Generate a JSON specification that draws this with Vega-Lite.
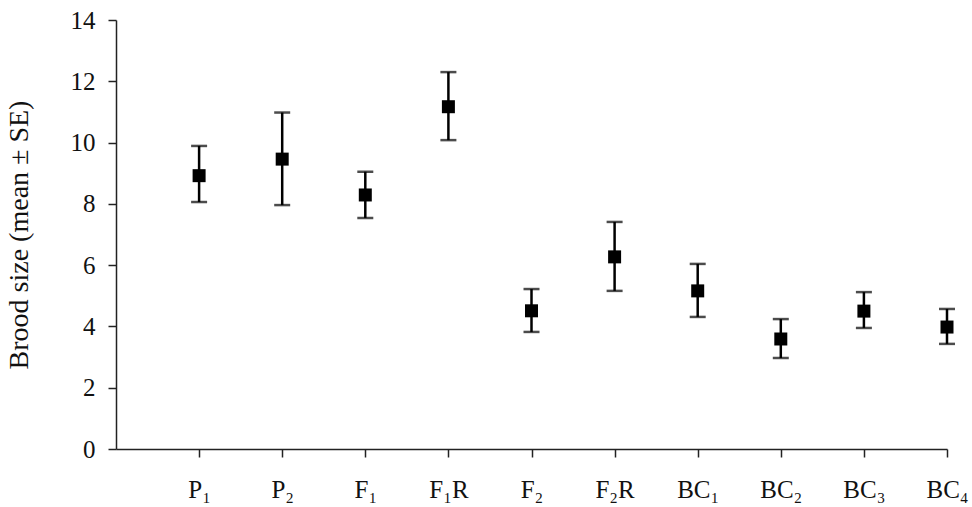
{
  "$schema": "https://vega.github.io/schema/vega-lite/v6.json",
  "autosize": {"type": "none"},
  "width": 831,
  "height": 429,
  "padding": {"left": 116, "top": 20, "right": 25, "bottom": 58},
  "background": "white",
  "config": {
    "view": {"stroke": null},
    "font": "Liberation Serif"
  },
  "data": {
    "values": [
      {"group": "P₁", "mean": 8.92, "lo": 8.06, "hi": 9.89},
      {"group": "P₂", "mean": 9.46, "lo": 7.96, "hi": 10.98},
      {"group": "F₁", "mean": 8.29, "lo": 7.54, "hi": 9.05},
      {"group": "F₁R", "mean": 11.17, "lo": 10.08, "hi": 12.3},
      {"group": "F₂", "mean": 4.51, "lo": 3.82, "hi": 5.22},
      {"group": "F₂R", "mean": 6.27, "lo": 5.16, "hi": 7.41},
      {"group": "BC₁", "mean": 5.16, "lo": 4.31, "hi": 6.04},
      {"group": "BC₂", "mean": 3.59, "lo": 2.97, "hi": 4.24},
      {"group": "BC₃", "mean": 4.5, "lo": 3.95, "hi": 5.12},
      {"group": "BC₄", "mean": 3.98, "lo": 3.43, "hi": 4.57}
    ]
  },
  "encoding": {
    "x": {
      "field": "group",
      "type": "nominal",
      "sort": null,
      "scale": {"type": "point", "padding": 0.5, "align": 1},
      "axis": {
        "title": null,
        "labelAngle": 0,
        "labelFont": "Liberation Serif",
        "labelFontSize": 25,
        "labelColor": "#111",
        "labelPadding": 20,
        "tickSize": 8,
        "tickColor": "#222",
        "tickWidth": 1.5,
        "domainColor": "#222",
        "domainWidth": 1.5,
        "grid": false
      }
    }
  },
  "layer": [
    {
      "mark": {"type": "rule", "color": "#000", "strokeWidth": 2.5},
      "encoding": {
        "y": {
          "field": "lo",
          "type": "quantitative",
          "scale": {"domain": [0, 14]},
          "axis": {
            "title": "Brood size (mean ± SE)",
            "titleFont": "Liberation Serif",
            "titleFontSize": 28,
            "titleFontWeight": "normal",
            "titleColor": "#111",
            "titlePadding": 37,
            "values": [0, 2, 4, 6, 8, 10, 12, 14],
            "labelFont": "Liberation Serif",
            "labelFontSize": 25,
            "labelColor": "#111",
            "labelPadding": 13,
            "tickSize": 8,
            "tickColor": "#222",
            "tickWidth": 1.5,
            "domainColor": "#222",
            "domainWidth": 1.5,
            "grid": false
          }
        },
        "y2": {"field": "hi"}
      }
    },
    {
      "mark": {"type": "tick", "color": "#000", "thickness": 2.5, "size": 16},
      "encoding": {"y": {"field": "lo", "type": "quantitative"}}
    },
    {
      "mark": {"type": "tick", "color": "#000", "thickness": 2.5, "size": 16},
      "encoding": {"y": {"field": "hi", "type": "quantitative"}}
    },
    {
      "mark": {"type": "point", "shape": "square", "filled": true, "color": "#000", "size": 169, "opacity": 1},
      "encoding": {"y": {"field": "mean", "type": "quantitative"}}
    }
  ]
}
